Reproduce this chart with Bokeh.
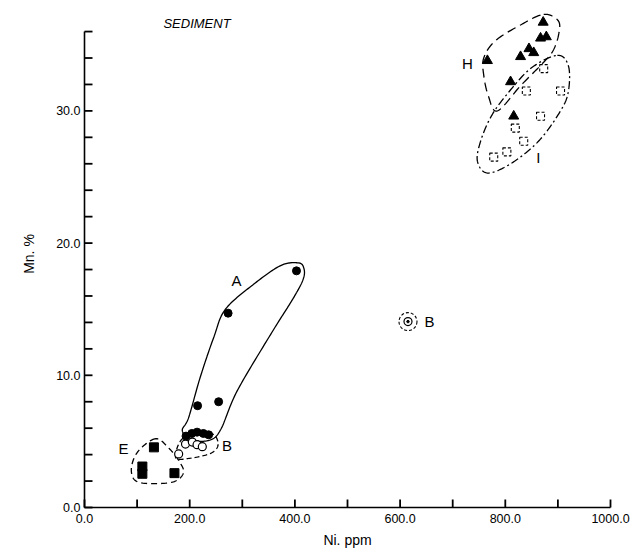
import numpy as np
from bokeh.plotting import figure
from bokeh.models import FixedTicker, Range1d, Label
from bokeh.core.properties import value
from bokeh.embed import file_html
from bokeh.resources import INLINE

FONT = "Liberation Sans"

# --- sample groups: Ni (ppm) and Mn (%) ---
a_ni = [403, 273, 255, 215, 193, 204, 214, 226, 236]
a_mn = [17.9, 14.7, 8.0, 7.7, 5.4, 5.6, 5.7, 5.6, 5.5]

b_ni = [179, 192, 205, 214, 224]
b_mn = [4.05, 4.8, 4.95, 4.75, 4.6]

b2_ni = [615]
b2_mn = [14.06]

e_ni = [132, 110, 110, 171]
e_mn = [4.55, 3.1, 2.55, 2.6]

h_ni = [872, 867, 878, 845, 854, 829, 766, 810, 816]
h_mn = [36.7, 35.5, 35.6, 34.7, 34.4, 34.1, 33.8, 32.2, 29.6]

i_ni = [873, 840, 905, 867, 819, 835, 803, 778]
i_mn = [33.2, 31.5, 31.5, 29.6, 28.7, 27.7, 26.9, 26.5]

# --- hand-drawn group envelopes (control points, Ni / Mn) ---
env_a_ni = [407, 417, 416, 398, 354, 290, 259, 238, 205, 186, 198, 220, 246, 268, 322, 373]
env_a_mn = [18.5, 18.1, 17.3, 15.9, 13.1, 8.8, 5.9, 5.1, 5.1, 5.8, 6.8, 9.85, 12.9, 15.0, 16.9, 18.3]

env_b_ni = [173, 189, 240, 254, 240, 196]
env_b_mn = [3.8, 5.3, 5.6, 4.8, 4.1, 3.7]

env_e_ni = [135, 101, 89, 104, 165, 188, 180, 160]
env_e_mn = [5.2, 4.2, 2.8, 1.9, 1.9, 2.6, 3.5, 4.5]

env_h_ni = [873, 901, 901, 890, 871, 829, 785, 768, 759, 759, 781, 829]
env_h_mn = [37.3, 36.8, 35.7, 34.5, 33.6, 31.9, 30.0, 31.1, 32.7, 34.0, 35.3, 36.5]

env_i_ni = [899, 920, 920, 905, 863, 810, 766, 747, 753, 772, 800, 848]
env_i_mn = [34.2, 33.4, 31.5, 30.0, 27.7, 26.0, 25.3, 26.2, 27.7, 29.5, 31.1, 33.2]

# --- group labels ---
label_text = ["A", "B", "E", "H", "I", "B"]
label_ni = [289, 271, 74, 728, 863, 656]
label_mn = [17.2, 4.7, 4.5, 33.6, 26.5, 14.1]

# --- axis ticks ---
x_major = [0, 200, 400, 600, 800, 1000]
x_minor = [100, 300, 500, 700, 900]
x_labels = ["0.0", "200.0", "400.0", "600.0", "800.0", "1000.0"]
y_major = [0, 10, 20, 30]
y_minor = [2, 4, 6, 8, 12, 14, 16, 18, 22, 24, 26, 28, 32, 34, 36]
y_labels = ["0.0", "10.0", "20.0", "30.0"]

X_END, Y_END = 1000, 38.35
FRAME_W, FRAME_H = 526, 507
TICK_PX = 8


def closed_spline(xs, ys, n=20):
    """Closed Catmull-Rom curve through the control points."""
    x = np.asarray(xs, float)
    y = np.asarray(ys, float)
    k = len(x)
    t = np.linspace(0, 1, n, endpoint=False)[:, None]
    pts = []
    for i in range(k):
        p0, p1, p2, p3 = [np.array([x[(i + j) % k], y[(i + j) % k]]) for j in (-1, 0, 1, 2)]
        seg = 0.5 * ((2 * p1) + (-p0 + p2) * t + (2 * p0 - 5 * p1 + 4 * p2 - p3) * t ** 2
                     + (-p0 + 3 * p1 - 3 * p2 + p3) * t ** 3)
        pts.append(seg)
    pts = np.vstack(pts + [pts[0][:1]])
    return pts[:, 0], pts[:, 1]


p = figure(width=642, height=555,
           x_range=Range1d(0, X_END), y_range=Range1d(0, Y_END),
           output_backend="svg", toolbar_location=None,
           min_border_left=84, min_border_right=32,
           min_border_top=0, min_border_bottom=48)
p.outline_line_color = None
p.grid.visible = False

# inward tick marks drawn as short segments from each axis into the frame
xt = x_major + x_minor
yt = y_major + y_minor
x_tick_len = TICK_PX * Y_END / FRAME_H
y_tick_len = TICK_PX * X_END / FRAME_W
p.segment(x0=xt, y0=[0.0] * len(xt), x1=xt, y1=[x_tick_len] * len(xt),
          line_color="black", line_width=1.8, level="overlay")
p.segment(x0=[0.0] * len(yt), y0=yt, x1=[y_tick_len] * len(yt), y1=yt,
          line_color="black", line_width=1.8, level="overlay")

# envelopes
for ex, ey, dash in [(env_a_ni, env_a_mn, "solid"),
                     (env_b_ni, env_b_mn, "5 3"),
                     (env_e_ni, env_e_mn, "6 4"),
                     (env_h_ni, env_h_mn, "9 5"),
                     (env_i_ni, env_i_mn, "8 3 2 3")]:
    sx, sy = closed_spline(ex, ey)
    p.line(sx, sy, line_color="black", line_width=1.3, line_dash=dash)

# sample markers
p.scatter(a_ni, a_mn, marker="circle", size=8, fill_color="black", line_color="black")
p.scatter(b_ni, b_mn, marker="circle", size=8, fill_color="white", line_color="black", line_width=1.2)
p.scatter(e_ni, e_mn, marker="square", size=9, fill_color="black", line_color="black")
p.scatter(h_ni, h_mn, marker="triangle", size=10, fill_color="black", line_color="black")
p.scatter(i_ni, i_mn, marker="square", size=8, fill_color=None, line_color="black",
          line_width=1.1, line_dash="3 2")

# isolated B sample: small ring inside a dashed ring
p.scatter(b2_ni, b2_mn, marker="circle", size=18, fill_color=None, line_color="black",
          line_width=1.1, line_dash="3 2")
p.scatter(b2_ni, b2_mn, marker="circle", size=8, fill_color=None, line_color="black", line_width=1.2)
p.scatter(b2_ni, b2_mn, marker="circle", size=2.5, fill_color="black", line_color="black")

p.text(label_ni, label_mn, text=label_text, text_font=value(FONT), text_font_size="15px",
       text_align="center", text_baseline="middle", text_color="black")

p.add_layout(Label(x=150, y=36.6, text="SEDIMENT", text_font=FONT, text_font_size="13px",
                   text_font_style="italic", text_baseline="middle", text_color="black"))

# axes
xa = p.xaxis[0]
xa.ticker = FixedTicker(ticks=x_major)
xa.major_label_overrides = {v: s for v, s in zip(x_major, x_labels)}
xa.bounds = (0, X_END)
xa.axis_label = "Ni. ppm"
xa.axis_label_standoff = 6
xa.major_label_standoff = 6

ya = p.yaxis[0]
ya.ticker = FixedTicker(ticks=y_major)
ya.major_label_overrides = {v: s for v, s in zip(y_major, y_labels)}
ya.bounds = (0, 36)
ya.axis_label = "Mn. %"
ya.axis_label_standoff = 16
ya.major_label_standoff = 4

for ax in (xa, ya):
    ax.axis_line_color = "black"
    ax.axis_line_width = 1.6
    ax.major_tick_in = 0
    ax.major_tick_out = 0
    ax.minor_tick_in = 0
    ax.minor_tick_out = 0
    ax.major_label_text_font = FONT
    ax.major_label_text_font_size = "12.5px"
    ax.major_label_text_color = "black"
    ax.axis_label_text_font = FONT
    ax.axis_label_text_font_size = "14px"
    ax.axis_label_text_font_style = "normal"
    ax.axis_label_text_color = "black"

open("out.html", "w").write(file_html(p, INLINE))
